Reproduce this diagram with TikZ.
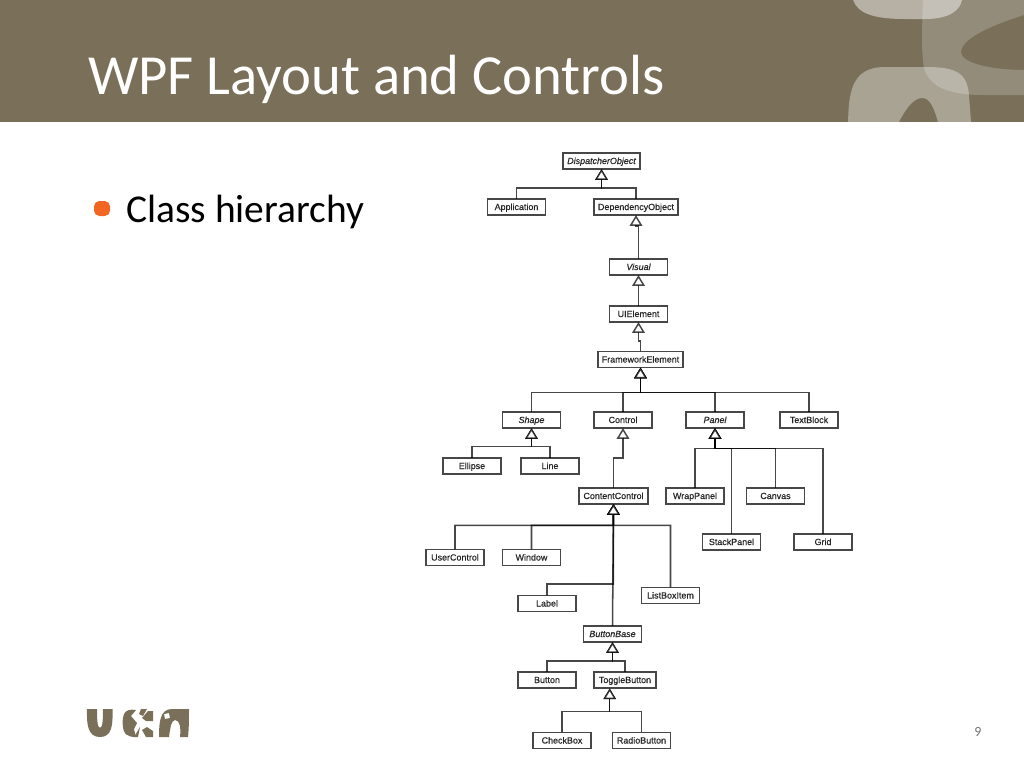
\documentclass[tikz,border=0pt]{standalone}
\usepackage{fontspec}
\setmainfont{Carlito}
\newfontfamily\classfont[FakeBold=0.45]{Liberation Sans}
\usetikzlibrary{arrows.meta}
\definecolor{headbrown}{HTML}{7A7059}
\definecolor{bulletorange}{HTML}{F26522}
\tikzset{
  cls/.style={draw=black!72,line width=1.1pt,fill=white,inner sep=0pt,outer sep=0pt,
    minimum width=43.5pt,minimum height=12.2pt,text height=5.4pt,text depth=0.9pt,text=black!85,
    font=\classfont\fontsize{6.7}{7}\selectfont},
  abstract/.style={cls,font=\classfont\itshape\fontsize{6.7}{7}\selectfont},
  isa/.style={draw=black,draw opacity=0.72,line width=1.15pt,
    -{Triangle[open,fill=white,length=8pt,width=9.4pt,line width=1.1pt]}},
}
\begin{document}
\begin{tikzpicture}[x=0.75pt,y=-0.75pt]
\useasboundingbox (0,0) rectangle (1024,768);

% header
\fill[headbrown] (0,0) rectangle (1024,122);
\begin{scope}
\clip (0,0) rectangle (1024,122);
\fill[white,opacity=0.2,even odd rule] (923,0) .. controls (922,30) and (921,50) .. (924,68) .. controls (930,88) and (950,95) .. (985,95) -- (1024,95) -- (1024,0) -- cycle
  (1024,15) .. controls (995,24) and (961,38) .. (961,52) .. controls (961,64) and (995,70) .. (1024,70) -- cycle;
\fill[white,opacity=0.46] (853,0) .. controls (858,14) and (875,19) .. (905,19) -- (925,19) .. controls (950,19) and (960,10) .. (962,0) -- cycle;
\fill[white,opacity=0.36] (848,122) .. controls (849,95) and (850,67) .. (885,67) -- (925,67) .. controls (955,67) and (967,72) .. (969,95) -- (971,122) -- (938,122) .. controls (934,108) and (930,98) .. (922,98) .. controls (914,98) and (906,108) .. (899,122) -- cycle;
\end{scope}
\node[anchor=base west,text=white,inner sep=0pt,font=\fontsize{42.5}{44}\selectfont] (title) at (88,94) {WPF Layout and Controls};

% bullet
\fill[bulletorange,rounded corners=4pt] (94,201) rectangle (110,216);
\node[anchor=base west,inner sep=0pt,font=\fontsize{29.6}{32}\selectfont] (item) at (126,222) {Class hierarchy};

% classes
\node[abstract,minimum width=57.7pt] (dispatcher) at (601.5,161) {DispatcherObject};
\node[cls] (application) at (516.5,207) {Application};
\node[cls,minimum width=63pt] (dependency) at (636,207) {DependencyObject};
\node[abstract] (visual) at (638.5,267) {Visual};
\node[cls] (uielement) at (638.5,314) {UIElement};
\node[cls,minimum width=64pt] (framework) at (640.5,359.5) {FrameworkElement};
\node[abstract] (shape) at (531.5,420) {Shape};
\node[cls] (control) at (623,420) {Control};
\node[abstract] (panel) at (715,420) {Panel};
\node[cls] (textblock) at (809,420) {TextBlock};
\node[cls] (ellipse) at (472,466) {Ellipse};
\node[cls] (line) at (550,466) {Line};
\node[cls,minimum width=52pt] (content) at (613.5,496) {ContentControl};
\node[cls] (wrappanel) at (695,496) {WrapPanel};
\node[cls] (canvas) at (775.5,496) {Canvas};
\node[cls] (stackpanel) at (731.5,542) {StackPanel};
\node[cls] (grid) at (823,542) {Grid};
\node[cls] (usercontrol) at (455,557.5) {UserControl};
\node[cls] (window) at (531.5,557.5) {Window};
\node[cls] (label) at (547,603.5) {Label};
\node[cls] (listboxitem) at (670.5,595.5) {ListBoxItem};
\node[abstract] (buttonbase) at (612.5,634) {ButtonBase};
\node[cls] (button) at (547,680) {Button};
\node[cls,minimum width=46.5pt] (toggle) at (625,680) {ToggleButton};
\node[cls] (checkbox) at (562,740.5) {CheckBox};
\node[cls] (radio) at (641.5,740.5) {RadioButton};

% junctions
\coordinate (dobus) at (601.5,188);
\coordinate (vistip) at (636,226);
\coordinate (fetip) at (638.5,341);
\coordinate (febus) at (640.5,392.7);
\coordinate (shapebus) at (531.5,446.7);
\coordinate (ctlbend) at (623,458);
\coordinate (panelbus) at (715,448.3);
\coordinate (ccbus) at (613.3,525.3);
\coordinate (ccbend) at (613.3,584);
\coordinate (bbbus) at (612.5,661);
\coordinate (togtop) at (609.7,688.5);
\coordinate (togbus) at (609.7,711.7);

% inheritance
\draw[isa] (application.north) |- (dobus) -- (dispatcher.south);
\draw[isa] (dependency.north) |- (dobus) -- (dispatcher.south);
\draw[isa] (visual.north) |- (vistip) -- (dependency.south);
\draw[isa] (uielement.north) -- (visual.south);
\draw[isa] (framework.north) |- (fetip) -- (uielement.south);
\draw[isa] (shape.north) |- (febus) -- (framework.south);
\draw[isa] (control.north) |- (febus) -- (framework.south);
\draw[isa] (panel.north) |- (febus) -- (framework.south);
\draw[isa] (textblock.north) |- (febus) -- (framework.south);
\draw[isa] (ellipse.north) |- (shapebus) -- (shape.south);
\draw[isa] (line.north) |- (shapebus) -- (shape.south);
\draw[isa] (content.north) |- (ctlbend) -- (control.south);
\draw[isa] (wrappanel.north) |- (panelbus) -- (panel.south);
\draw[isa] (stackpanel.north) |- (panelbus) -- (panel.south);
\draw[isa] (canvas.north) |- (panelbus) -- (panel.south);
\draw[isa] (grid.north) |- (panelbus) -- (panel.south);
\draw[isa] (usercontrol.north) |- (ccbus) -- (content.south);
\draw[isa] (window.north) |- (ccbus) -- (content.south);
\draw[isa] (listboxitem.north) |- (ccbus) -- (content.south);
\draw[isa] (label.north) |- (ccbend) -- (content.south);
\draw[isa] (buttonbase.north) -- (content.south);
\draw[isa] (button.north) |- (bbbus) -- (buttonbase.south);
\draw[isa] (toggle.north) |- (bbbus) -- (buttonbase.south);
\draw[isa] (checkbox.north) |- (togbus) -- (togtop);
\draw[isa] (radio.north) |- (togbus) -- (togtop);

% logo
\fill[headbrown] (87,709) -- (97,709) .. controls (97,716) and (97,728) .. (100,728) .. controls (103,728) and (103,716) .. (103,709) -- (112.5,709) .. controls (113,725) and (112,737) .. (100,737) .. controls (88,737) and (86.5,725) .. (87,709) -- cycle;
\fill[headbrown] (136,710) .. controls (124,708) and (122.5,715) .. (122.7,724) .. controls (123,735) and (128,737) .. (136,737) -- (134,729) -- (137,723) -- (131,716) -- cycle;
\fill[headbrown] (141,709) -- (147,709) -- (143,716) -- (139,714) -- cycle;
\fill[headbrown] (148,711) -- (153,711) -- (153,721) -- (146,721) -- (142,718) -- cycle;
\fill[headbrown] (142,730) -- (147,727) -- (153,731) -- (153,737) -- (146,737) -- cycle;
\fill[headbrown] (140,727) -- (138,737) -- (134,737) -- cycle;
\fill[headbrown,even odd rule] (159,737) .. controls (159,722) and (160,709) .. (172,709) -- (189,709) .. controls (189,718) and (189,728) .. (188,737) -- (180,737) .. controls (181,728) and (180,720) .. (175,720) .. controls (171,720) and (170,730) .. (169,737) -- cycle
  (164,714) -- (169,713) -- (170,718) -- (165,719) -- cycle;

% page number
\node[anchor=base,text=black!55,inner sep=0pt,font=\fontsize{10.5}{12}\selectfont] (pagenum) at (978,736) {9};
\end{tikzpicture}
\end{document}
